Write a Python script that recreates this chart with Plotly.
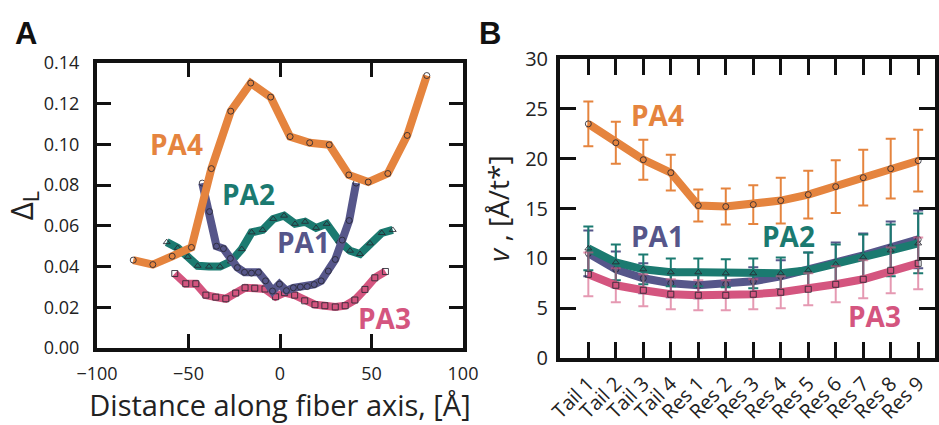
import plotly.graph_objects as go

# ---- Panel A: local order parameter along the fiber axis ----
pa4_x = [-80.2, -69.5, -58.9, -48.4, -37.5, -26.9, -16.0, -5.1, 5.5, 16.2, 26.9, 37.6, 48.2, 58.9, 69.5, 80.2]
pa4_y = [0.0432, 0.0410, 0.0451, 0.0494, 0.0881, 0.1163, 0.1301, 0.1232, 0.1038, 0.1008, 0.0998, 0.0850, 0.0815, 0.0857, 0.1044, 0.1338]

pa1_x = [-42.5, -38.5, -34.7, -30.9, -27.1, -23.3, -19.4, -15.6, -11.8, -7.9, -4.1, -0.3,
         3.5, 7.3, 11.1, 14.9, 18.7, 22.5, 26.4, 30.2, 34.0, 37.8, 41.6]
pa1_y = [0.0810, 0.0670, 0.0500, 0.0488, 0.0440, 0.0395, 0.0372, 0.0368, 0.0372, 0.0330, 0.0280, 0.0314,
         0.0282, 0.0296, 0.0300, 0.0302, 0.0312, 0.0330, 0.0378, 0.0435, 0.0530, 0.0626, 0.0810]

pa2_x = [-61.9, -55.9, -50.4, -45.0, -38.8, -32.8, -26.8, -20.9, -15.5, -9.5, -3.7,
         2.2, 8.2, 13.7, 19.7, 25.5, 32.4, 38.3, 43.7, 49.2, 55.6, 61.6]
pa2_y = [0.0520, 0.0492, 0.0448, 0.0404, 0.0400, 0.0400, 0.0425, 0.0486, 0.0568, 0.0580, 0.0634,
         0.0650, 0.0610, 0.0620, 0.0590, 0.0610, 0.0524, 0.0478, 0.0462, 0.0514, 0.0565, 0.0580]

pa3_x = [-57.5, -51.5, -46.0, -40.5, -35.1, -29.6, -24.2, -19.1, -13.8, -8.2, -2.4,
         2.5, 8.0, 13.5, 19.1, 24.5, 30.2, 35.6, 40.9, 46.4, 51.8, 57.6]
pa3_y = [0.0366, 0.0316, 0.0316, 0.0260, 0.0250, 0.0242, 0.0270, 0.0296, 0.0294, 0.0290, 0.0252,
         0.0272, 0.0260, 0.0232, 0.0213, 0.0208, 0.0202, 0.0208, 0.0236, 0.0288, 0.0345, 0.0376]

# ---- Panel B: velocity per segment ----
segments = ["Tail 1", "Tail 2", "Tail 3", "Tail 4", "Res 1", "Res 2", "Res 3",
            "Res 4", "Res 5", "Res 6", "Res 7", "Res 8", "Res 9"]
v_pa4 = [23.5, 21.6, 19.9, 18.6, 15.3, 15.2, 15.4, 15.8, 16.4, 17.2, 18.1, 19.0, 19.8]
e_pa4 = [2.25, 2.1, 2.0, 1.8, 1.6, 1.8, 1.95, 2.3, 2.4, 2.65, 2.8, 3.0, 3.1]
v_pa1 = [10.5, 8.9, 8.0, 7.5, 7.3, 7.4, 7.7, 8.2, 8.8, 9.6, 10.3, 11.1, 11.9]
e_pa1 = [2.3, 1.8, 1.5, 1.4, 1.3, 1.3, 1.4, 1.6, 1.8, 2.0, 2.2, 2.6, 2.9]
v_pa2 = [11.0, 9.6, 8.9, 8.6, 8.6, 8.5, 8.5, 8.5, 8.8, 9.4, 10.1, 10.8, 11.5]
e_pa2 = [2.2, 1.8, 1.5, 1.4, 1.4, 1.4, 1.5, 1.6, 1.8, 2.0, 2.3, 2.6, 3.0]
v_pa3 = [8.4, 7.3, 6.8, 6.4, 6.3, 6.3, 6.4, 6.6, 6.9, 7.4, 7.9, 8.8, 9.5]
e_pa3 = [2.2, 1.7, 1.6, 1.5, 1.5, 1.5, 1.5, 1.6, 1.6, 1.8, 1.9, 2.3, 2.6]

C_PA1 = "#56568a"
C_PA2 = "#1b7a70"
C_PA3 = "#d4557f"
C_PA4 = "#e5843e"
MK = "rgba(40,40,50,0.85)"

fig = go.Figure()


def line(x, y, color, symbol, xa, ya, err=None, errcolor=None):
    tr = go.Scatter(
        x=x, y=y, mode="lines+markers", xaxis=xa, yaxis=ya, showlegend=False,
        line=dict(color=color, width=8),
        marker=dict(symbol=symbol, size=6, color=MK, line=dict(width=1)),
    )
    if err is not None:
        tr.error_y = dict(type="data", array=err, visible=True,
                          color=errcolor or color, thickness=2, width=5)
    fig.add_trace(tr)


# panel A
line(pa3_x, pa3_y, C_PA3, "square-open", "x", "y")
line(pa2_x, pa2_y, C_PA2, "triangle-up-open", "x", "y")
line(pa1_x, pa1_y, C_PA1, "circle-open", "x", "y")
line(pa4_x, pa4_y, C_PA4, "circle-open", "x", "y")

# panel B
line(segments, v_pa4, C_PA4, "circle-open", "x2", "y2", e_pa4)
line(segments, v_pa1, C_PA1, "circle-open", "x2", "y2", e_pa1)
line(segments, v_pa2, C_PA2, "triangle-up-open", "x2", "y2", e_pa2)
line(segments, v_pa3, C_PA3, "square-open", "x2", "y2", e_pa3, "rgba(212,85,127,0.6)")

frame = dict(showline=True, linewidth=4, linecolor="#111", mirror="ticks",
             ticks="inside", tickwidth=3, tickcolor="#111", showgrid=False,
             zeroline=False, automargin=False)
FONT_A = dict(family="Open Sans", size=18, color="#222")
FONT_B = dict(family="Open Sans", size=20, color="#222")

fig.update_layout(
    width=939, height=425, autosize=False,
    margin=dict(l=0, r=0, t=0, b=0, autoexpand=False),
    paper_bgcolor="white", plot_bgcolor="white",
    xaxis=dict(domain=[0.1033, 0.4931], range=[-100, 100], tickvals=[-100, -50, 0, 50, 100],
               ticktext=["\u2212100", "\u221250", "0", "50", "100"], ticklen=14,
               ticklabelstandoff=6, anchor="y", tickfont=FONT_A,
               title=dict(text="Distance along fiber axis, [\u00c5]",
                          font=dict(family="Open Sans", size=29, color="#222"), standoff=10),
               **frame),
    yaxis=dict(domain=[0.181, 0.852], range=[0, 0.14], tickvals=[0, 0.02, 0.04, 0.06, 0.08, 0.10, 0.12, 0.14],
               tickformat=".2f", ticklen=14, ticklabelstandoff=10, anchor="x", tickfont=FONT_A,
               title=dict(text="\u0394<sub>L</sub>", font=dict(family="Open Sans", size=31, color="#222"),
                          standoff=6),
               **frame),
    xaxis2=dict(domain=[0.5964, 0.996], type="category", range=[-1.03, 12.62],
                ticklen=16, tickangle=-45, anchor="y2", tickfont=FONT_B, ticklabelstandoff=2, **frame),
    yaxis2=dict(domain=[0.1576, 0.861], range=[0, 30], tickvals=[0, 5, 10, 15, 20, 25, 30],
                ticklen=16, ticklabelstandoff=4, anchor="x2", tickfont=FONT_B,
                title=dict(text="<i>v</i> , [\u00c5/t*]", font=dict(family="Open Sans", size=28, color="#222"),
                           standoff=8),
                **frame),
)

# series labels
lab = dict(family="Open Sans", size=28, weight="bold")
labels = [
    ("x", "y", -56.5, 0.1, "PA4", C_PA4),
    ("x", "y", -17, 0.0755, "PA2", C_PA2),
    ("x", "y", 13, 0.0522, "PA1", C_PA1),
    ("x", "y", 57, 0.0148, "PA3", C_PA3),
    ("x2", "y2", 2.53, 24.4, "PA4", C_PA4),
    ("x2", "y2", 2.5, 12.2, "PA1", C_PA1),
    ("x2", "y2", 7.3, 12.2, "PA2", C_PA2),
    ("x2", "y2", 10.4, 4.2, "PA3", C_PA3),
]
for xr, yr, xv, yv, t, c in labels:
    fig.add_annotation(x=xv, y=yv, xref=xr, yref=yr, text=t, showarrow=False,
                       font=dict(lab, color=c))

# panel letters
for px, t in [(0.028, "A"), (0.522, "B")]:
    fig.add_annotation(x=px, y=0.922, xref="paper", yref="paper", text=t, showarrow=False,
                       xanchor="center", yanchor="middle",
                       font=dict(family="Liberation Sans", size=31, weight="bold", color="#111"))

fig.write_html("out.html")
